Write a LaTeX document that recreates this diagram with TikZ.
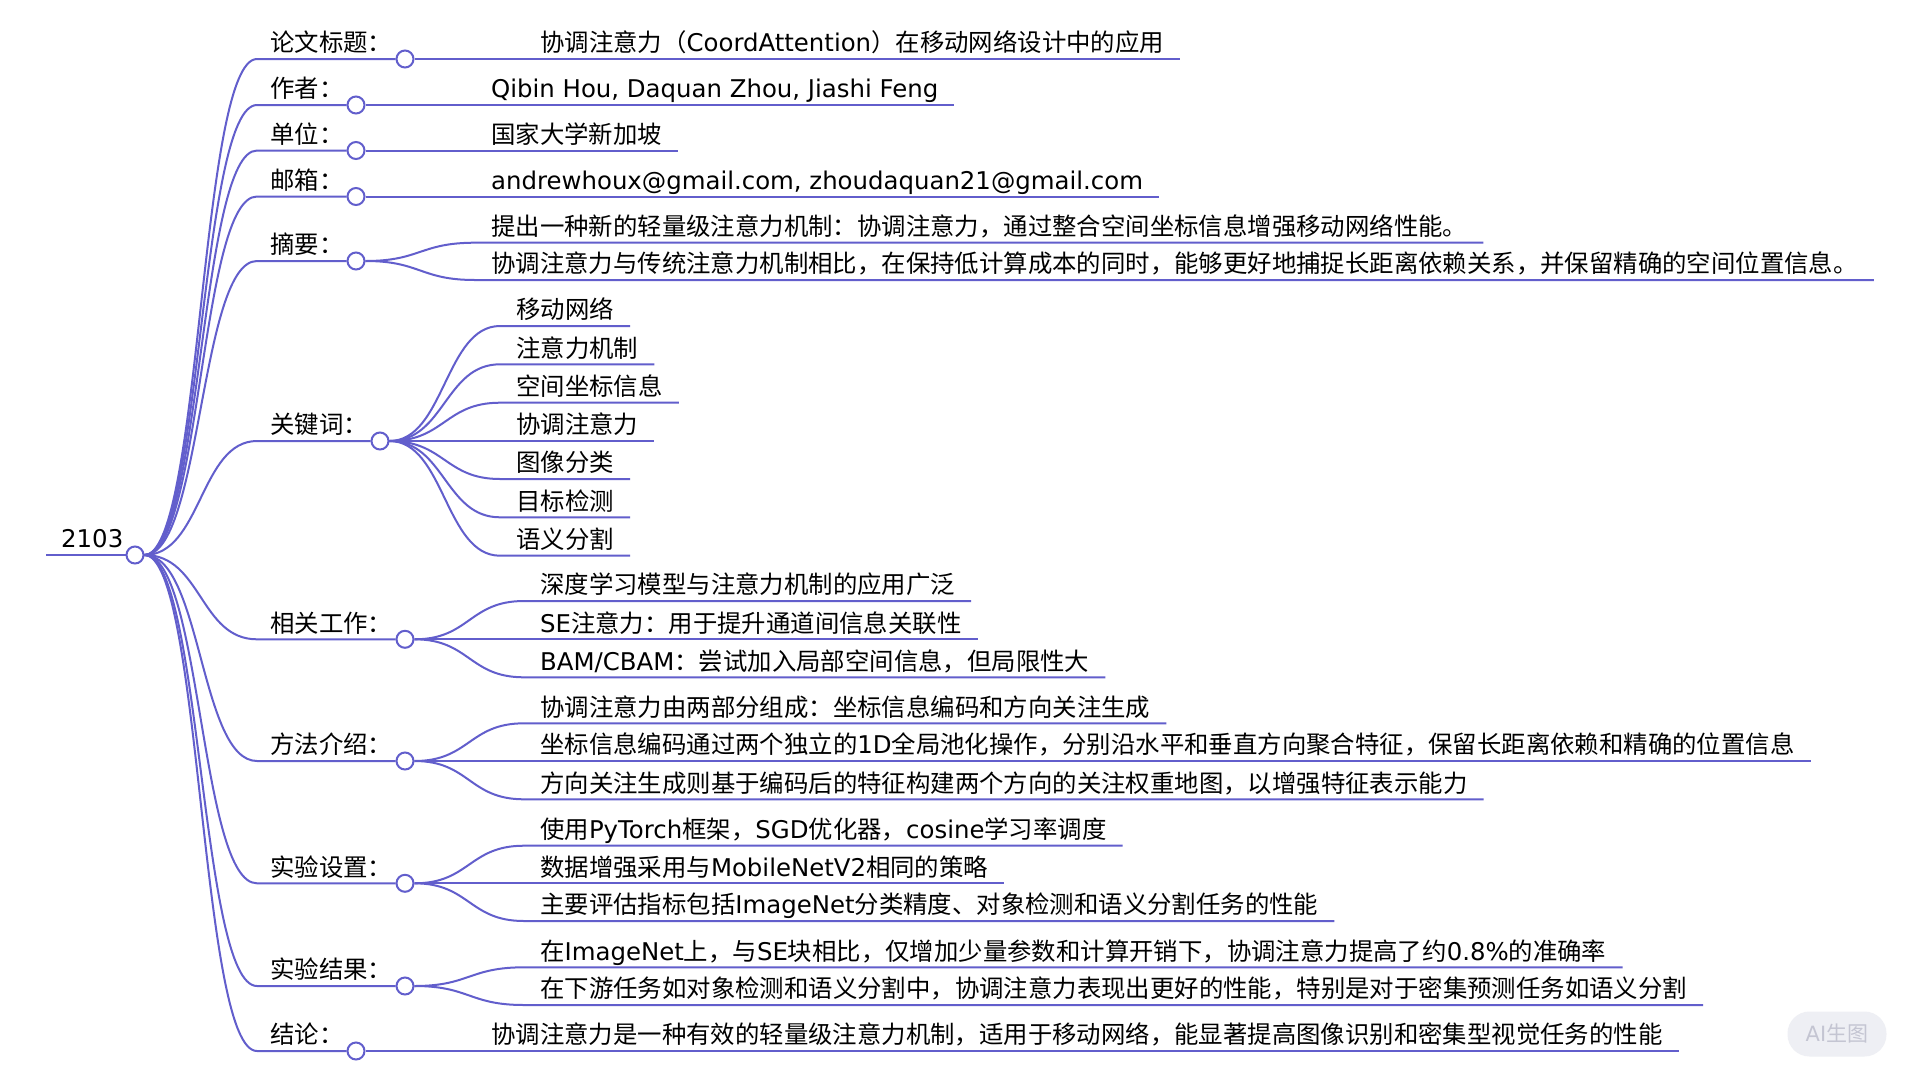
\documentclass[tikz,border=0pt]{standalone}
\usepackage{fontspec}
\setmainfont{Noto Sans CJK SC}
\newfontfamily\lat{DejaVu Sans}
\definecolor{mapline}{RGB}{98,94,204}
\definecolor{wmark}{RGB}{238,239,244}

\begin{document}
\begin{tikzpicture}[
    x=1pt, y=-1pt,
    font=\fontsize{24.4}{28}\selectfont,
    link/.style={draw=mapline, line width=2pt},
    hub/.style={circle, draw=mapline, line width=2pt, fill=white, minimum size=17pt, inner sep=0pt},
    lbl/.style={anchor=south west, inner xsep=13pt, inner ysep=0pt, text depth=7pt},
    leaf/.style={anchor=south west, inner xsep=16pt, inner ysep=0pt, text depth=7pt}
]
    \fill[white] (0,0) rectangle (1920,1080);
    \useasboundingbox (0,0) rectangle (1920,1080);

    % Root
    \node[lbl, inner xsep=15pt] (L0) at (46,555) {{\lat 2103}};
    \node[hub] (R) at (135,555) {};

    % Main branches (11 labels and hubs)
    \node[lbl] (L1) at (257,59) {论文标题：};
    \node[lbl] (L2) at (257,105) {作者：};
    \node[lbl] (L3) at (257,150.5) {单位：};
    \node[lbl] (L4) at (257,196.5) {邮箱：};
    \node[lbl] (L5) at (257,261) {摘要：};
    \node[lbl] (L6) at (257,441) {关键词：};
    \node[lbl] (L7) at (257,639.3) {相关工作：};
    \node[lbl] (L8) at (257,761) {方法介绍：};
    \node[lbl] (L9) at (257,883.3) {实验设置：};
    \node[lbl] (L10) at (257,986) {实验结果：};
    \node[lbl] (L11) at (257,1051) {结论：};

    \node[hub] (H1) at (405,59) {};
    \node[hub] (H2) at (356,105) {};
    \node[hub] (H3) at (356,150.5) {};
    \node[hub] (H4) at (356,196.5) {};
    \node[hub] (H5) at (356,261) {};
    \node[hub] (H6) at (380,441) {};
    \node[hub] (H7) at (405,639.3) {};
    \node[hub] (H8) at (405,761) {};
    \node[hub] (H9) at (405,883.3) {};
    \node[hub] (H10) at (405,986) {};
    \node[hub] (H11) at (356,1051) {};

    % Single leaves
    \node[leaf] (T) at (524,59) {协调注意力（{\lat CoordAttention}）在移动网络设计中的应用};
    \node[leaf] (A) at (475,105) {{\lat Qibin Hou, Daquan Zhou, Jiashi Feng}};
    \node[leaf] (U) at (475,150.5) {国家大学新加坡};
    \node[leaf] (E) at (475,196.5) {{\lat andrewhoux@gmail.com, zhoudaquan21@gmail.com}};
    \node[leaf] (C) at (475,1051) {协调注意力是一种有效的轻量级注意力机制，适用于移动网络，能显著提高图像识别和密集型视觉任务的性能};

    % Abstract (2 items)
    \node[leaf] (S1) at (475,242.7) {提出一种新的轻量级注意力机制：协调注意力，通过整合空间坐标信息增强移动网络性能。};
    \node[leaf] (S2) at (475,280) {协调注意力与传统注意力机制相比，在保持低计算成本的同时，能够更好地捕捉长距离依赖关系，并保留精确的空间位置信息。};

    % Keywords (7 items)
    \node[leaf] (K1) at (500,326) {移动网络};
    \node[leaf] (K2) at (500,364.3) {注意力机制};
    \node[leaf] (K3) at (500,402.7) {空间坐标信息};
    \node[leaf] (K4) at (500,441) {协调注意力};
    \node[leaf] (K5) at (500,479) {图像分类};
    \node[leaf] (K6) at (500,517.3) {目标检测};
    \node[leaf] (K7) at (500,555.7) {语义分割};

    % Related work (3 items)
    \node[leaf] (W1) at (524,601) {深度学习模型与注意力机制的应用广泛};
    \node[leaf] (W2) at (524,639.3) {{\lat SE}注意力：用于提升通道间信息关联性};
    \node[leaf] (W3) at (524,677.3) {{\lat BAM/CBAM}：尝试加入局部空间信息，但局限性大};

    % Method (3 items)
    \node[leaf] (M1) at (524,723.3) {协调注意力由两部分组成：坐标信息编码和方向关注生成};
    \node[leaf] (M2) at (524,761) {坐标信息编码通过两个独立的{\lat 1D}全局池化操作，分别沿水平和垂直方向聚合特征，保留长距离依赖和精确的位置信息};
    \node[leaf] (M3) at (524,799.3) {方向关注生成则基于编码后的特征构建两个方向的关注权重地图，以增强特征表示能力};

    % Setup (3 items)
    \node[leaf] (P1) at (524,845.7) {使用{\lat PyTorch}框架，{\lat SGD}优化器，{\lat cosine}学习率调度};
    \node[leaf] (P2) at (524,883.3) {数据增强采用与{\lat MobileNetV2}相同的策略};
    \node[leaf] (P3) at (524,921) {主要评估指标包括{\lat ImageNet}分类精度、对象检测和语义分割任务的性能};

    % Results (2 items)
    \node[leaf] (X1) at (524,967.3) {在{\lat ImageNet}上，与{\lat SE}块相比，仅增加少量参数和计算开销下，协调注意力提高了约{\lat 0.8\%}的准确率};
    \node[leaf] (X2) at (524,1005) {在下游任务如对象检测和语义分割中，协调注意力表现出更好的性能，特别是对于密集预测任务如语义分割};

    % Connections - root
    \draw[link] (L0.south west) -- (R);
    \foreach \n in {1,...,11}
        \draw[link] (R.east) .. controls +(57,0) and +(-57,0) .. (L\n.south west) -- (H\n);

    % Connections - hubs to single leaves
    \foreach \p/\q in {1/T, 2/A, 3/U, 4/E, 11/C}
        \draw[link] (H\p) -- (\q.south east);

    % Connections - hubs to item lists
    \foreach \p/\q in {5/S1, 5/S2, 6/K1, 6/K2, 6/K3, 6/K4, 6/K5, 6/K6, 6/K7,
                       7/W1, 7/W2, 7/W3, 8/M1, 8/M2, 8/M3, 9/P1, 9/P2, 9/P3,
                       10/X1, 10/X2}
        \draw[link] (H\p.east) .. controls +(55,0) and +(-55,0) .. (\q.south west) -- (\q.south east);

    % Watermark
    \node[fill=wmark, rounded corners=22pt, minimum width=99pt, minimum height=45pt,
          text={rgb,255:red,196;green,197;blue,210}, font=\fontsize{21}{24}\selectfont] (WM) at (1837,1034) {{\lat AI}生图};
\end{tikzpicture}
\end{document}
